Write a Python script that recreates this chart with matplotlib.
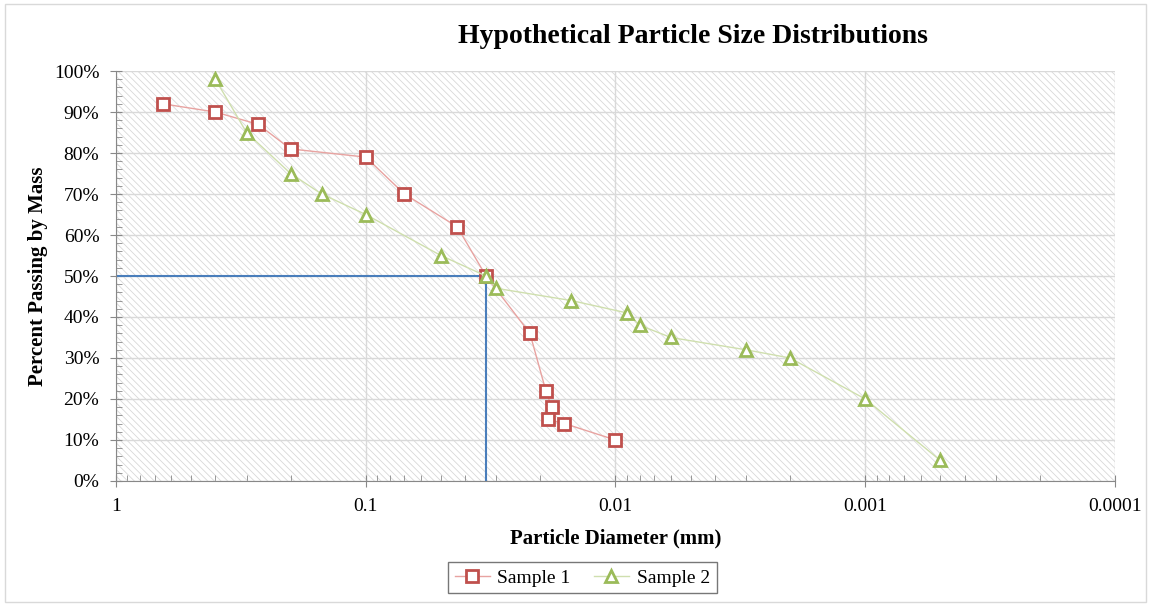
import matplotlib
matplotlib.use("Agg")
import matplotlib.pyplot as plt
import matplotlib.ticker as mticker
from matplotlib.patches import Rectangle

plt.rcParams['font.family'] = ['Liberation Serif', 'DejaVu Serif']
plt.rcParams['hatch.linewidth'] = 0.6

# particle diameter (mm) and percent passing
s1_d = [0.65, 0.4, 0.27, 0.2, 0.1, 0.07, 0.043, 0.033, 0.022, 0.019, 0.018, 0.0187, 0.016, 0.01]
s1_p = [92, 90, 87, 81, 79, 70, 62, 50, 36, 22, 18, 15, 14, 10]

s2_d = [0.4, 0.3, 0.2, 0.15, 0.1, 0.05, 0.033, 0.03, 0.015, 0.009, 0.008, 0.006, 0.003, 0.002, 0.001, 0.0005]
s2_p = [98, 85, 75, 70, 65, 55, 50, 47, 44, 41, 38, 35, 32, 30, 20, 5]

d50 = 0.033

fig = plt.figure(figsize=(11.53, 6.05), dpi=100)
ax = fig.add_axes([0.1006, 0.205, 0.8664, 0.6776])

# hatched plot area
ax.add_patch(Rectangle((0, 0), 1, 1, transform=ax.transAxes, facecolor='none',
                       edgecolor='#d8d8d8', hatch='\\' * 5, linewidth=0, zorder=0))

ax.plot(s1_d, s1_p, color='#e8a3a1', lw=1, marker='s', ms=9, mfc='white',
        mec='#c0504d', mew=2, label='Sample 1', zorder=3)
ax.plot(s2_d, s2_p, color='#cfdfae', lw=1, marker='^', ms=9, mfc='white',
        mec='#9bbb59', mew=2, label='Sample 2', zorder=3)

# D50 guide
ax.plot([1, d50, d50], [50, 50, 0], color='#4a7ebb', lw=1.5, zorder=2)

ax.set_xscale('log')
ax.set_xlim(1, 0.0001)
ax.set_ylim(0, 100)
ax.xaxis.set_major_locator(mticker.LogLocator(base=10, numticks=10))
ax.xaxis.set_major_formatter(mticker.FuncFormatter(lambda v, p: f"{v:g}"))
ax.xaxis.set_minor_locator(mticker.LogLocator(base=10, subs=range(2, 10), numticks=20))
ax.xaxis.set_minor_formatter(mticker.NullFormatter())
ax.yaxis.set_major_locator(mticker.MultipleLocator(10))
ax.yaxis.set_minor_locator(mticker.MultipleLocator(2))
ax.yaxis.set_major_formatter(mticker.FuncFormatter(lambda v, p: f"{v:.0f}%"))

ax.grid(which='major', color='#d9d9d9', lw=1, zorder=1)
ax.set_axisbelow(True)
for s in ['top', 'right']:
    ax.spines[s].set_visible(False)
for s in ['left', 'bottom']:
    ax.spines[s].set_color('#888888')
ax.tick_params(which='major', direction='inout', length=8, color='#888888', labelsize=14, pad=8)
ax.tick_params(which='minor', direction='in', length=4, color='#888888')

ax.set_xlabel('Particle Diameter (mm)', fontsize=15, fontweight='bold', labelpad=10)
ax.set_ylabel('Percent Passing by Mass', fontsize=15, fontweight='bold', labelpad=4)
fig.text(0.601, 0.939, 'Hypothetical Particle Size Distributions', ha='center', va='center',
         fontsize=20, fontweight='bold')

leg = fig.legend(loc='center', bbox_to_anchor=(0.505, 0.045), ncol=2, fontsize=14,
                 frameon=True, fancybox=False, edgecolor='#555555', handlelength=1.8,
                 handletextpad=0.4, columnspacing=1.2, borderpad=0.35)
leg.get_frame().set_linewidth(1)

fig.add_artist(Rectangle((0.004, 0.005), 0.99, 0.988, transform=fig.transFigure,
                         facecolor='none', edgecolor='#d9d9d9', lw=1))

fig.savefig('out.png', dpi=100)
